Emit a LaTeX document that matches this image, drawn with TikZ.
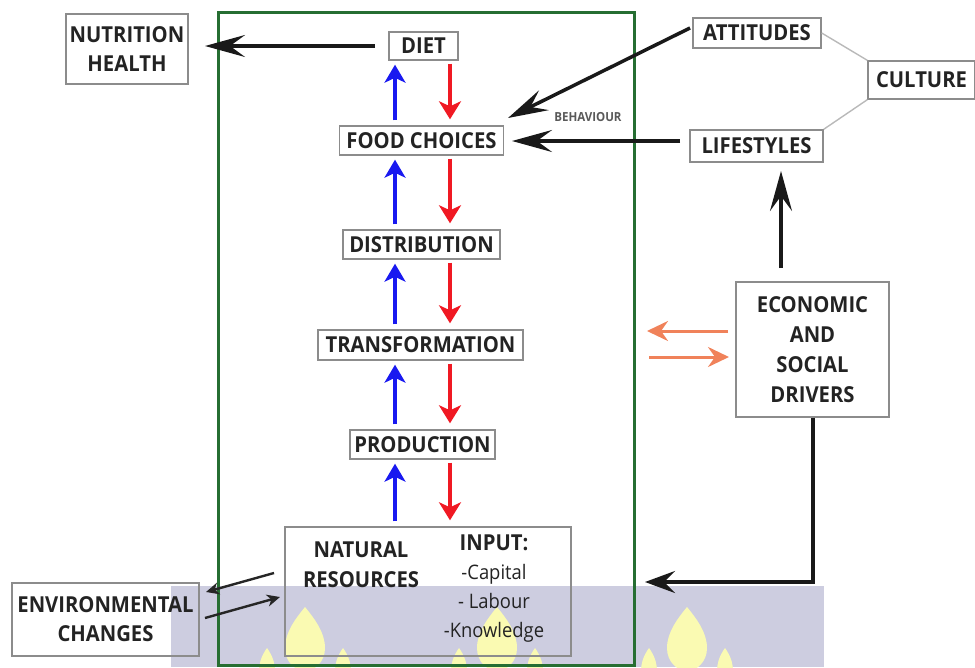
\documentclass[tikz,border=0pt]{standalone}
\usepackage{fontspec}
\setmainfont{Open Sans}[FakeStretch=0.92]
\usetikzlibrary{arrows.meta,calc}

\definecolor{boxgray}{RGB}{140,140,140}
\definecolor{txt}{RGB}{35,35,35}
\definecolor{frame}{RGB}{38,110,50}
\definecolor{upblue}{RGB}{25,25,240}
\definecolor{downred}{RGB}{240,25,35}
\definecolor{drive}{RGB}{240,130,90}
\definecolor{band}{RGB}{205,205,224}
\definecolor{flame}{RGB}{250,250,178}
\definecolor{link}{RGB}{185,185,185}

\begin{document}
\begin{tikzpicture}[x=1pt,y=-1pt,
  box/.style={draw=boxgray,line width=1.4pt,text=txt,inner sep=0pt,align=center,
    font=\fontsize{22}{29}\selectfont\bfseries},
  plain/.style={text=txt,inner sep=0pt,align=center},
  blk/.style={draw=black!90,line width=3.5pt,-{Stealth[length=40pt,width=22pt,inset=15pt]}},
  upar/.style={draw=upblue,line width=3.5pt,-{Stealth[length=18pt,width=21pt,inset=5pt]}},
  downar/.style={draw=downred,line width=3.2pt,-{Stealth[length=18pt,width=22pt,inset=5pt]}},
  drv/.style={draw=drive,line width=3pt,-{Stealth[length=21pt,width=20pt,inset=7pt]}},
  envar/.style={draw=black!85,line width=2.4pt,-{Stealth[length=13pt,width=12pt,inset=4pt]}},
]
\useasboundingbox (0,0) rectangle (975,667);

% watermark band along the bottom
\fill[band] (171,586) rectangle (824,667);
\begin{scope}
  \clip (171,586) rectangle (824,667);
  \foreach \cx in {305,497,687}{
    % large central drop
    \fill[flame] (\cx,607) .. controls (\cx+9,618) and (\cx+20,632) .. (\cx+20,648)
      .. controls (\cx+20,662) and (\cx+10,670) .. (\cx,672)
      .. controls (\cx-10,670) and (\cx-20,662) .. (\cx-20,648)
      .. controls (\cx-20,632) and (\cx-9,618) .. (\cx,607) -- cycle;
    % two small side drops
    \foreach \dx in {-38,38}{
      \fill[flame] (\cx+\dx,648) .. controls (\cx+\dx+5,655) and (\cx+\dx+8,662) .. (\cx+\dx+8,672)
        -- (\cx+\dx-8,672) .. controls (\cx+\dx-8,662) and (\cx+\dx-5,655) .. (\cx+\dx,648) -- cycle;
    }
  }
\end{scope}

% food system frame
\draw[frame,line width=3pt] (218,12) rectangle (634,665);

% boxes
\node[box,minimum width=122pt,minimum height=70pt] (nut) at (127,49) {NUTRITION\\HEALTH};
\node[box,minimum width=69pt,minimum height=28pt] (diet) at (423.5,46) {DIET};
\node[box,minimum width=164pt,minimum height=29pt] (food) at (421.5,140.5) {FOOD CHOICES};
\node[box,minimum width=157pt,minimum height=29pt] (dist) at (421.5,244.5) {DISTRIBUTION};
\node[box,minimum width=205pt,minimum height=30pt] (trans) at (420.5,345) {TRANSFORMATION};
\node[box,minimum width=145pt,minimum height=29pt] (prod) at (422.5,444.5) {PRODUCTION};
\node[box,minimum width=286pt,minimum height=129pt] (nat) at (428,591.5) {};
\node[plain,font=\fontsize{22}{30}\selectfont\bfseries] (natres) at (361,565) {NATURAL\\RESOURCES};
\node[plain,font=\fontsize{20}{29}\selectfont] (input) at (494,589)
  {{\fontsize{22}{29}\selectfont\bfseries INPUT:}\\-Capital\\- Labour\\-Knowledge};
\node[box,minimum width=128pt,minimum height=30pt] (att) at (757,33) {ATTITUDES};
\node[box,minimum width=133pt,minimum height=32pt] (life) at (756.5,146) {LIFESTYLES};
\node[box,minimum width=107pt,minimum height=38pt] (cult) at (921.5,80) {CULTURE};
\node[box,minimum width=153pt,minimum height=135pt,font=\fontsize{22}{30}\selectfont\bfseries] (econ) at (812.5,349.5)
  {ECONOMIC\\AND\\SOCIAL\\DRIVERS};
\node[box,minimum width=187pt,minimum height=73pt] (env) at (105.5,619.5) {ENVIRONMENTAL\\CHANGES};
\node[plain,text=black!65,font=\fontsize{12.5}{12.5}\selectfont\bfseries] (beh) at (588,117) {BEHAVIOUR};

% columns of the up/down arrows
\coordinate (bx) at (395,0);
\coordinate (rx) at (450,0);

% upward (blue) and downward (red) flows along the chain
\foreach \lo/\hi in {food/diet,dist/food,trans/dist,prod/trans,nat/prod}{
  \draw[upar] ($(\lo.north -| bx)+(0,-5)$) -- ($(\hi.south -| bx)+(0,4)$);
  \draw[downar] ($(\hi.south -| rx)+(0,3)$) -- ($(\lo.north -| rx)+(0,-6)$);
}

% diet to nutrition
\coordinate (dietl) at (375,46);
\coordinate (nutr) at (205,46);
\draw[blk] (dietl) -- (nutr);

% culture links
\draw[link,line width=1.4pt] (att.east) -- (cult.north west);
\draw[link,line width=1.4pt] (life.north east) -- (cult.south west);

% attitudes and lifestyles into food choices
\coordinate (atts) at (690,28);
\coordinate (foodne) at (508,118);
\draw[blk] (atts) -- (foodne);
\coordinate (lifew) at (680,141);
\coordinate (foode) at (512,141);
\draw[blk] (lifew) -- (foode);

% drivers to lifestyles
\coordinate (econn) at (781,268);
\coordinate (lifes) at (781,171);
\draw[blk] (econn) -- (lifes);

% drivers exchanging with the food system
\coordinate (o1a) at (728,331);
\coordinate (o1b) at (647,331);
\coordinate (o2a) at (649,357);
\coordinate (o2b) at (729,357);
\draw[drv] (o1a) -- (o1b);
\draw[drv] (o2a) -- (o2b);

% drivers down to the natural resources level
\coordinate (corner) at (813,582);
\coordinate (frin) at (645,582);
\draw[blk,-{Stealth[length=30pt,width=22pt,inset=11pt]}] (econ.south -| corner) -- (corner) -- (frin);

% environmental changes and natural resources
\coordinate (e1a) at (274,573);
\coordinate (e1b) at (206,592);
\coordinate (e2a) at (205,618);
\coordinate (e2b) at (280,597);
\draw[envar] (e1a) -- (e1b);
\draw[envar] (e2a) -- (e2b);
\end{tikzpicture}
\end{document}
